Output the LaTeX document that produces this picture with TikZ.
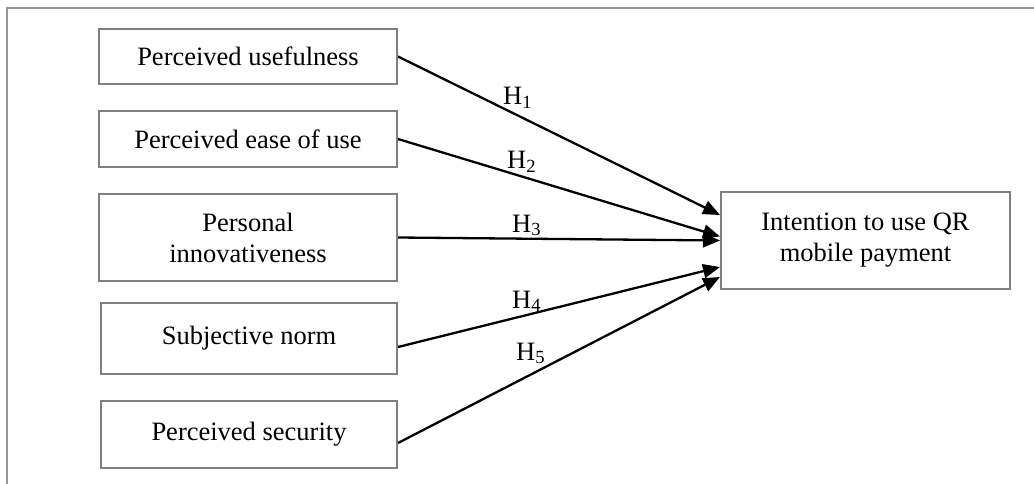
\documentclass[tikz,border=0pt]{standalone}
\usepackage{fontspec}
\setmainfont{Liberation Serif}
\usetikzlibrary{arrows.meta}
\tikzset{
  frame/.style={draw=black!42, line width=1.5pt},
  box/.style={draw=black!50, line width=2pt, fill=white, align=center, inner sep=0pt,
    font=\fontsize{26.5}{31}\selectfont},
  link/.style={line width=2.3pt, -{Triangle[length=17pt,width=14pt]}},
  hyp/.style={anchor=base west, inner sep=0pt, font=\fontsize{26.5}{31}\selectfont}
}
\begin{document}
\begin{tikzpicture}[x=1pt,y=-1pt]
\useasboundingbox (0,0) rectangle (1034,484);
\clip (0,0) rectangle (1034,484);
\draw[frame] (7,8) rectangle (1060,510);

\node[box, minimum width=298pt, minimum height=55pt] (b1) at (248,56.5) {Perceived usefulness};
\node[box, minimum width=298pt, minimum height=56pt] (b2) at (248,139) {Perceived ease of use};
\node[box, minimum width=298pt, minimum height=87pt] (b3) at (248,237.5) {Personal\\innovativeness};
\node[box, minimum width=296pt, minimum height=71pt] (b4) at (249,338.5) {Subjective norm};
\node[box, minimum width=296pt, minimum height=67pt] (b5) at (249,434.5) {Perceived security};
\node[box, minimum width=289pt, minimum height=97pt] (t) at (865.5,240.5) {Intention to use QR\\mobile payment};

\draw[link] (b1.east) -- ([yshift=25.5pt]t.west);
\draw[link] (b2.east) -- ([yshift=4pt]t.west);
\draw[link] (b3.east) -- (t.west);
\draw[link] ([yshift=-8.5pt]b4.east) -- ([yshift=-26.5pt]t.west);
\draw[link] ([yshift=-8.5pt]b5.east) -- ([yshift=-36.5pt]t.west);

\node[hyp] (h1) at (503,105) {H\textsubscript{1}};
\node[hyp] (h2) at (507,169) {H\textsubscript{2}};
\node[hyp] (h3) at (512,232) {H\textsubscript{3}};
\node[hyp] (h4) at (512,308) {H\textsubscript{4}};
\node[hyp] (h5) at (516,360) {H\textsubscript{5}};
\end{tikzpicture}
\end{document}
